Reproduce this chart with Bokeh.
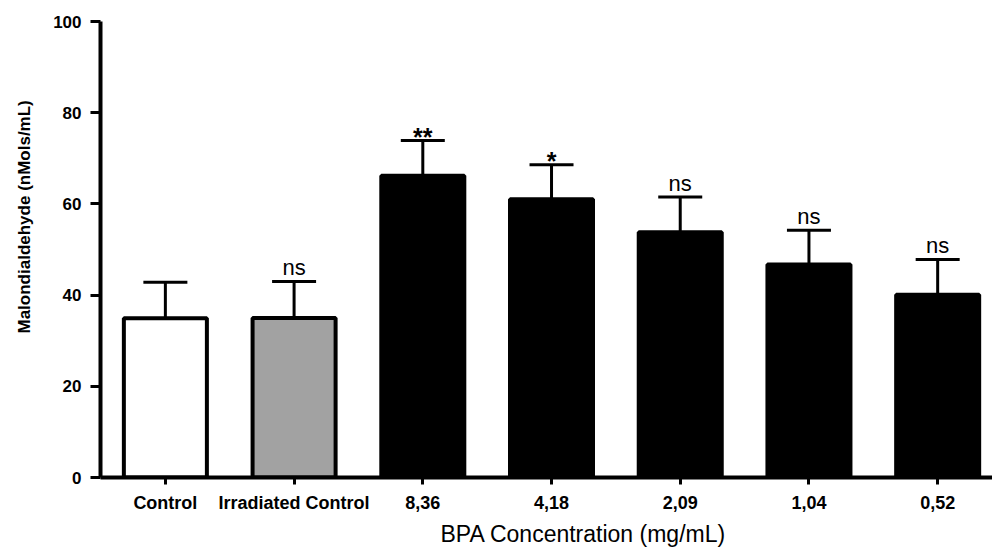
import math
from bokeh.plotting import figure
from bokeh.models import Range1d, FixedTicker, Whisker, TeeHead, ColumnDataSource, Title
from bokeh.core.properties import value
from bokeh.embed import file_html
from bokeh.resources import INLINE

# ---- data ----
categories = ["Control", "Irradiated Control", "8,36", "4,18", "2,09", "1,04", "0,52"]
means = [34.9, 35.0, 66.2, 61.0, 53.8, 46.7, 40.1]
sem = [7.9, 8.0, 7.7, 7.6, 7.7, 7.5, 7.7]
marks = ["", "ns", "**", "*", "ns", "ns", "ns"]
fills = ["white", "#a2a2a2", "black", "black", "black", "black", "black"]
y_ticks = [0, 20, 40, 60, 80, 100]
y_title = "Malondialdehyde  (nMols/mL)"
x_title = "BPA Concentration (mg/mL)"

FONT = "Liberation Sans"

xs = list(range(len(categories)))
upper = [m + s for m, s in zip(means, sem)]

p = figure(width=992, height=550,
           x_range=Range1d(-0.504, 6.426), y_range=Range1d(0, 100),
           output_backend="svg", toolbar_location=None,
           min_border_left=98, min_border_right=0,
           min_border_top=21, min_border_bottom=73)
p.outline_line_color = None
p.grid.visible = False
p.background_fill_color = "white"
p.border_fill_color = "white"

bars = ColumnDataSource(dict(x=xs, top=means, fill=fills))
p.vbar(x="x", top="top", bottom=0, width=0.645, source=bars,
       fill_color="fill", line_color="black", line_width=4)

err = ColumnDataSource(dict(x=xs, lower=means, upper=upper))
p.add_layout(Whisker(base="x", lower="lower", upper="upper", source=err,
                     line_width=3, line_color="black",
                     upper_head=TeeHead(size=44, line_width=3, line_color="black"),
                     lower_head=None))

ns_idx = [i for i, m in enumerate(marks) if m == "ns"]
st_idx = [i for i, m in enumerate(marks) if m.startswith("*")]
ns_src = ColumnDataSource(dict(x=[xs[i] for i in ns_idx], y=[upper[i] for i in ns_idx],
                               t=[marks[i] for i in ns_idx]))
st_src = ColumnDataSource(dict(x=[xs[i] for i in st_idx], y=[upper[i] for i in st_idx],
                               t=[marks[i] for i in st_idx]))
p.text(x="x", y="y", text="t", source=ns_src, text_font=value(FONT),
       text_font_size="22px", text_align="center", text_baseline="alphabetic",
       y_offset=-14, text_color="black")
p.text(x="x", y="y", text="t", source=st_src, text_font=value(FONT),
       text_font_size="25px", text_font_style="bold", text_align="center",
       text_baseline="alphabetic", y_offset=-4, text_color="black")

# x axis
xa = p.xaxis[0]
xa.ticker = FixedTicker(ticks=xs)
xa.major_label_overrides = {i: c for i, c in enumerate(categories)}
xa.axis_line_width = 4
xa.major_tick_line_width = 3
xa.major_tick_out = 7
xa.major_tick_in = 0
xa.minor_tick_line_color = None
xa.major_label_text_font = FONT
xa.major_label_text_font_size = "18px"
xa.major_label_text_font_style = "bold"
xa.major_label_text_color = "black"
xa.major_label_standoff = 8

# y axis
ya = p.yaxis[0]
ya.ticker = FixedTicker(ticks=y_ticks)
ya.axis_line_width = 4
ya.major_tick_line_width = 3
ya.major_tick_out = 10
ya.major_tick_in = 0
ya.minor_tick_line_color = None
ya.major_label_text_font = FONT
ya.major_label_text_font_size = "17px"
ya.major_label_text_font_style = "bold"
ya.major_label_text_color = "black"
ya.major_label_standoff = 9

# axis titles
p.add_layout(Title(text=x_title, align="left", offset=340, standoff=7,
                   text_font=FONT, text_font_size="23px", text_font_style="normal",
                   text_color="black"), "below")
p.add_layout(Title(text=y_title, align="left", offset=144, standoff=29,
                   vertical_align="top",
                   text_font=FONT, text_font_size="17px", text_font_style="bold",
                   text_color="black"), "left")

open("out.html", "w").write(file_html(p, INLINE))
